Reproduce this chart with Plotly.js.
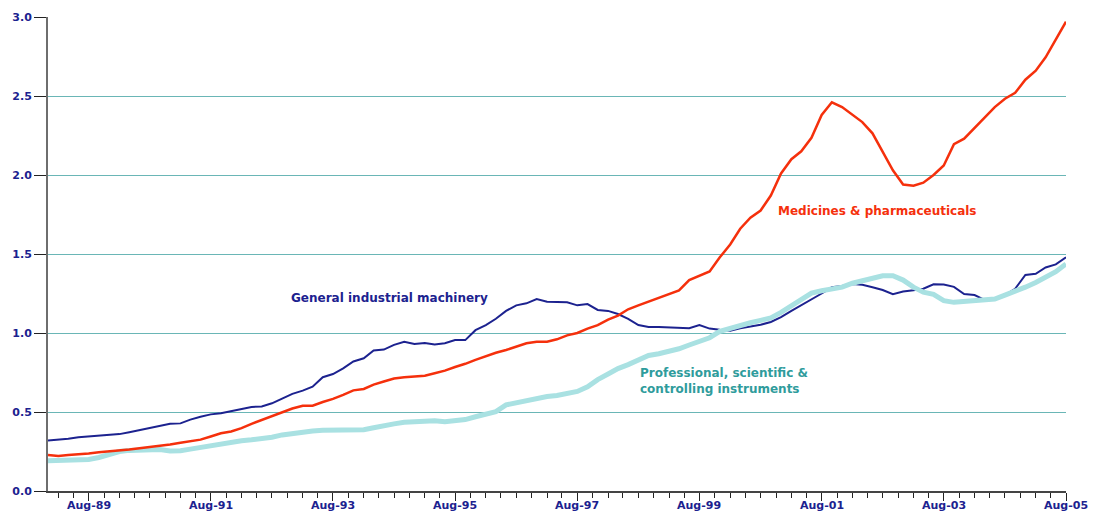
<!DOCTYPE html>
<html>
<head>
<meta charset="utf-8">
<script src="https://cdn.plot.ly/plotly-3.0.1.min.js"></script>
<style>
html,body{margin:0;padding:0;background:#fff;}
#chart{width:1093px;height:511px;}
</style>
</head>
<body>
<div id="chart"></div>
<script>
// Bimonthly observations, Dec-1988 to Aug-2005
const startYear = 1988, startMonth = 12, nPoints = 101;
const dates = [];
for (let k = 0; k < nPoints; k++) {
  const m0 = (startMonth - 1) + 2 * k;
  const y = startYear + Math.floor(m0 / 12);
  const m = (m0 % 12) + 1;
  dates.push(y + '-' + String(m).padStart(2, '0') + '-01');
}

const generalMachinery = [
  0.320,0.325,0.330,0.340,0.345,0.350,0.355,0.360,0.372,0.386,
  0.398,0.410,0.425,0.428,0.452,0.470,0.485,0.492,0.505,0.520,
  0.532,0.535,0.555,0.585,0.615,0.635,0.660,0.720,0.740,0.776,
  0.820,0.840,0.890,0.895,0.925,0.945,0.930,0.937,0.928,0.935,
  0.955,0.955,1.018,1.050,1.090,1.140,1.175,1.188,1.215,1.198,
  1.194,1.194,1.175,1.183,1.146,1.140,1.120,1.090,1.050,1.038,
  1.038,1.036,1.036,1.030,1.050,1.028,1.020,1.015,1.030,1.040,
  1.052,1.070,1.100,1.140,1.175,1.215,1.250,1.289,1.297,1.310,
  1.305,1.290,1.272,1.245,1.262,1.270,1.280,1.308,1.307,1.292,
  1.247,1.240,1.210,1.215,1.240,1.280,1.367,1.375,1.415,1.434,
  1.479
];

const medicines = [
  0.228,0.222,0.228,0.232,0.238,0.245,0.250,0.255,0.262,0.270,
  0.277,0.285,0.295,0.305,0.315,0.325,0.345,0.365,0.377,0.398,
  0.425,0.450,0.472,0.495,0.522,0.540,0.540,0.563,0.583,0.608,
  0.637,0.646,0.673,0.693,0.712,0.720,0.723,0.730,0.745,0.762,
  0.785,0.805,0.830,0.855,0.875,0.892,0.915,0.935,0.945,0.945,
  0.960,0.985,1.000,1.028,1.050,1.085,1.110,1.150,1.175,1.200,
  1.225,1.250,1.270,1.335,1.361,1.390,1.479,1.560,1.660,1.730,
  1.775,1.870,2.010,2.100,2.150,2.235,2.380,2.460,2.430,2.380,
  2.335,2.264,2.147,2.030,1.940,1.932,1.951,2.000,2.060,2.195,
  2.230,2.300,2.362,2.430,2.483,2.520,2.603,2.660,2.745,2.854,
  2.970
];

const instruments = [
  0.192,0.194,0.196,0.196,0.200,0.212,0.232,0.250,0.257,0.260,
  0.263,0.262,0.253,0.255,0.265,0.275,0.290,0.302,0.310,0.318,
  0.324,0.330,0.340,0.355,0.365,0.372,0.380,0.384,0.386,0.386,
  0.384,0.388,0.400,0.415,0.425,0.435,0.440,0.443,0.445,0.438,
  0.443,0.452,0.470,0.490,0.502,0.545,0.560,0.575,0.590,0.598,
  0.604,0.615,0.630,0.660,0.705,0.740,0.775,0.800,0.828,0.858,
  0.869,0.882,0.900,0.924,0.945,0.970,1.010,1.030,1.052,1.065,
  1.080,1.095,1.130,1.170,1.215,1.252,1.267,1.280,1.290,1.315,
  1.332,1.345,1.362,1.362,1.335,1.290,1.258,1.245,1.205,1.194,
  1.198,1.208,1.205,1.215,1.240,1.262,1.290,1.320,1.350,1.388,
  1.437
];

const yTicks = [0, 0.5, 1.0, 1.5, 2.0, 2.5, 3.0];
const xTickDates = ['1989-08-01','1991-08-01','1993-08-01','1995-08-01','1997-08-01',
                    '1999-08-01','2001-08-01','2003-08-01','2005-08-01'];
const xTickLabels = ['Aug-89','Aug-91','Aug-93','Aug-95','Aug-97','Aug-99','Aug-01','Aug-03','Aug-05'];
const xRange = ['1988-12-01', '2005-08-01'];

const navy = '#1c228f';
const red = '#f5300c';
const cyan = '#a9e1e2';
const teal = '#2f9c9c';
const font = {family: 'DejaVu Sans, Verdana, sans-serif', size: 11, color: navy, weight: 'bold'};
const labelFont = Object.assign({}, font, {size: 12});

const traces = [
  {x: dates, y: generalMachinery, type: 'scatter', mode: 'lines', name: 'General industrial machinery',
   line: {color: navy, width: 2}},
  {x: dates, y: instruments, type: 'scatter', mode: 'lines', name: 'Professional, scientific & controlling instruments',
   line: {color: cyan, width: 5}},
  {x: dates, y: medicines, type: 'scatter', mode: 'lines', name: 'Medicines & pharmaceuticals',
   line: {color: red, width: 2.5}}
];

const annotations = xTickDates.map((d, i) => ({
  xref: 'x', yref: 'paper', x: d, y: -0.0316, xanchor: 'center', yanchor: 'middle',
  text: xTickLabels[i], showarrow: false, font: font
}));
annotations.push(
  {xref: 'paper', yref: 'paper', x: 0.2367, y: 0.407, xanchor: 'left', yanchor: 'middle',
   text: 'General industrial machinery', showarrow: false, font: Object.assign({}, labelFont, {color: navy})},
  {xref: 'paper', yref: 'paper', x: 0.7151, y: 0.5907, xanchor: 'left', yanchor: 'middle',
   text: 'Medicines & pharmaceuticals', showarrow: false, font: Object.assign({}, labelFont, {color: red})},
  {xref: 'paper', yref: 'paper', x: 0.5796, y: 0.2331, xanchor: 'left', yanchor: 'middle', align: 'left',
   text: 'Professional, scientific &<br>controlling instruments', showarrow: false, font: Object.assign({}, labelFont, {color: teal})}
);

const layout = {
  width: 1093, height: 511,
  margin: {l: 48, r: 27, t: 17, b: 20},
  paper_bgcolor: '#ffffff', plot_bgcolor: '#ffffff',
  showlegend: false,
  hovermode: false,
  xaxis: {
    type: 'date',
    range: xRange,
    tick0: '1989-08-01', dtick: 'M24',
    ticks: 'outside', ticklen: 8, tickwidth: 1, tickcolor: '#222',
    showticklabels: false,
    showgrid: false, zeroline: false,
    showline: true, linecolor: '#444', linewidth: 2,
    minor: {tick0: '1989-02-01', dtick: 'M3', ticks: 'outside', ticklen: 5, tickwidth: 1, tickcolor: '#222', showgrid: false}
  },
  yaxis: {
    range: [0, 3.0],
    tickvals: yTicks, tickformat: '.1f',
    ticks: 'outside', ticklen: 12, tickwidth: 1, tickcolor: '#222',
    showgrid: true, gridcolor: '#6ab6b6', gridwidth: 1,
    zeroline: false,
    showline: true, linecolor: '#6e6e6e', linewidth: 2,
    tickfont: font
  },
  annotations: annotations
};

Plotly.newPlot('chart', traces, layout, {displayModeBar: false, staticPlot: true});
</script>
</body>
</html>
